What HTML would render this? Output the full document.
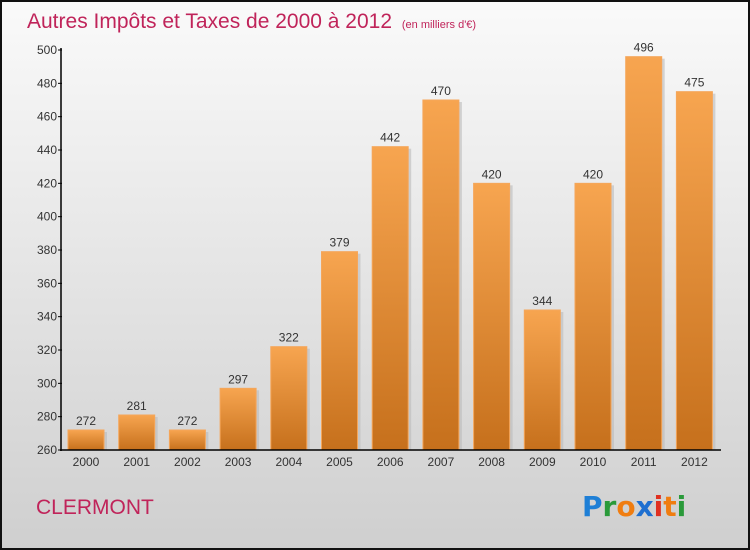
<!DOCTYPE html>
<html><head><meta charset="utf-8"><style>
body{margin:0;width:750px;height:550px;overflow:hidden}
svg{display:block;font-family:"Liberation Sans",sans-serif}
</style></head><body>
<svg id="c" width="750" height="550">
<defs>
<linearGradient id="bg" x1="0" y1="0" x2="0" y2="1"><stop offset="0" stop-color="#fafafa"/><stop offset="1" stop-color="#cfcfcf"/></linearGradient>
<linearGradient id="bar" x1="0" y1="0" x2="0" y2="1"><stop offset="0" stop-color="#f7a550"/><stop offset="1" stop-color="#c6701c"/></linearGradient>
</defs>
<rect x="1" y="1" width="748" height="548" fill="url(#bg)" stroke="#111" stroke-width="2"/>
<text x="27" y="28" font-size="21" fill="#c0245a">Autres Impôts et Taxes de 2000 à 2012 <tspan font-size="11" dx="4">(en milliers d'€)</tspan></text>
<text x="36" y="514" font-size="21" fill="#c0245a">CLERMONT</text>
<g font-size="28" font-weight="bold" font-family="'DejaVu Sans',sans-serif">
<text x="582" y="516"><tspan fill="#1e7fd6">P</tspan><tspan fill="#2a9a3a">r</tspan><tspan fill="#f07d10">o</tspan><tspan fill="#1e6fd0">x</tspan><tspan fill="#e03020">i</tspan><tspan fill="#f07d10">t</tspan><tspan fill="#2a9a3a">i</tspan></text>
</g>
<g id="plot"></g>
</svg>
<script>
const years=["2000","2001","2002","2003","2004","2005","2006","2007","2008","2009","2010","2011","2012"];
const values=[272,281,272,297,322,379,442,470,420,344,420,496,475];
const yTicks=[260,280,300,320,340,360,380,400,420,440,460,480,500];
const ns="http://www.w3.org/2000/svg";
const g=document.getElementById('plot');
const y0=450,y1=50,vmin=260,vmax=500;
const ys=v=>y0-(v-vmin)/(vmax-vmin)*(y0-y1);
const xs=i=>86+i*50.7;
function mk(t,a){const e=document.createElementNS(ns,t);for(const k in a)e.setAttribute(k,a[k]);g.appendChild(e);return e;}
values.forEach((v,i)=>{
 const r=mk('rect',{x:xs(i)-18+3,y:ys(v)+2,width:36,height:y0-ys(v)-2,fill:'#bbb',opacity:0.6});
 
 
 const b=mk('rect',{x:xs(i)-18,y:ys(v),width:36,height:y0-ys(v),fill:'url(#bar)',stroke:'#f5a65a','stroke-width':1});
 
 
 const t=mk('text',{x:xs(i),y:ys(v)-5,'text-anchor':'middle','font-size':12,fill:'#333'});
 t.textContent=v;
 
 
 const xl=mk('text',{x:xs(i),y:466,'text-anchor':'middle','font-size':12,fill:'#333'});
 xl.textContent=years[i];
 
 
});
yTicks.forEach(v=>{
 const l=mk('line',{x1:58,x2:62,y1:ys(v),y2:ys(v),stroke:'#000'});
 
 
 const t=mk('text',{x:57,y:ys(v)+4,'text-anchor':'end','font-size':12,fill:'#333'});
 t.textContent=v;
 
 
});
const ya=mk('line',{x1:61,x2:61,y1:48,y2:451,stroke:'#000','stroke-width':1.5});


const xa=mk('line',{x1:60,x2:721,y1:450,y2:450,stroke:'#000','stroke-width':1.5});


</script>
</body></html>
